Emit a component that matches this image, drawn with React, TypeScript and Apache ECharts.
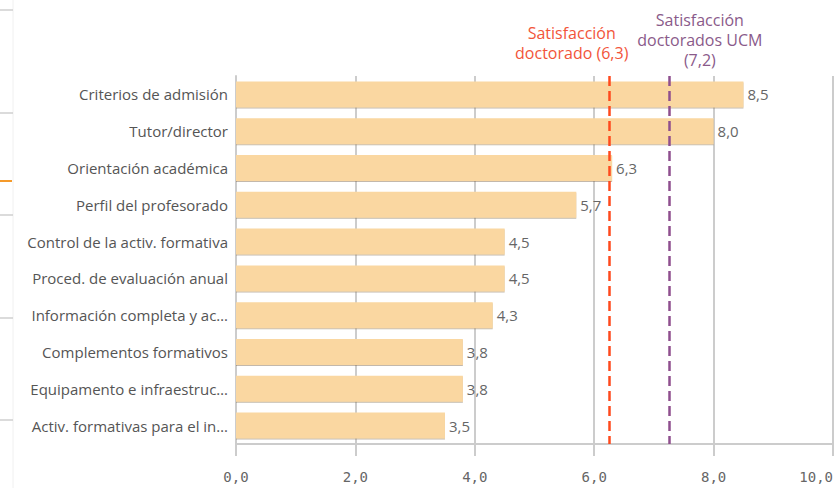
import React, { useEffect, useRef } from "react";
import * as echarts from "echarts";

const categories = [
  "Criterios de admisión",
  "Tutor/director",
  "Orientación académica",
  "Perfil del profesorado",
  "Control de la activ. formativa",
  "Proced. de evaluación anual",
  "Información completa y ac…",
  "Complementos formativos",
  "Equipamento e infraestruc…",
  "Activ. formativas para el in…",
];
const values = [8.5, 8.0, 6.3, 5.7, 4.5, 4.5, 4.3, 3.8, 3.8, 3.5];
const refDoctorado = 6.26;
const refUCM = 7.25;
const refDoctoradoLabel = "Satisfacción\ndoctorado (6,3)";
const refUCMLabel = "Satisfacción\ndoctorados UCM\n(7,2)";
const xTicks = [0, 2, 4, 6, 8, 10];

const fmt = (v: number) => v.toFixed(1).replace(".", ",");

export default function App() {
  const ref = useRef<HTMLDivElement>(null);
  useEffect(() => {
    if (!ref.current) return;
    const chart = echarts.init(ref.current, null, { renderer: "svg" });
    const mono = "DejaVu Sans Mono";
    const sans = "Open Sans";
    chart.setOption({
      animation: false,
      grid: { left: 236, right: 2, top: 76, bottom: 44, containLabel: false },
      xAxis: {
        type: "value",
        min: xTicks[0],
        max: xTicks[xTicks.length - 1],
        interval: 2,
        axisLine: { show: true, lineStyle: { color: "#cccccc", width: 2 } },
        axisTick: { show: true, length: 12, lineStyle: { color: "#cccccc", width: 2 } },
        splitLine: { show: true, lineStyle: { color: "#cccccc", width: 2 } },
        axisLabel: {
          margin: 26,
          color: "#666666",
          fontFamily: mono,
          fontSize: 14,
          formatter: (v: number) => fmt(v),
          alignMaxLabel: "right",
        },
      },
      yAxis: {
        type: "category",
        inverse: true,
        data: categories,
        offset: 3,
        axisLine: { show: true, lineStyle: { color: "#cccccc", width: 2 } },
        axisTick: { show: false },
        axisLabel: { color: "#555555", fontFamily: sans, fontSize: 15, margin: 5 },
      },
      series: [
        {
          type: "bar",
          data: values,
          barWidth: 26,
          itemStyle: {
            color: "#fad7a1",
            shadowColor: "rgba(120,100,70,0.45)",
            shadowOffsetY: 1,
            shadowBlur: 0,
          },
          label: {
            show: true,
            position: "right",
            distance: 4,
            color: "#666666",
            fontFamily: sans,
            fontSize: 15,
            formatter: (p: any) => fmt(p.value),
          },
          markLine: {
            silent: true,
            symbol: "none",
            label: { show: false },
            data: [
              { xAxis: refDoctorado, lineStyle: { color: "#ff4a1c", type: [10, 5], width: 2.5 } },
              { xAxis: refUCM, lineStyle: { color: "#8e4f8e", type: [10, 5], width: 2.5 } },
            ],
          },
        },
      ],
    });
    const x1 = chart.convertToPixel({ xAxisIndex: 0 }, refDoctorado) as number;
    const x2 = chart.convertToPixel({ xAxisIndex: 0 }, refUCM) as number;
    const sideLines = [10, 113, 215, 318, 420];
    chart.setOption({
      graphic: [
        {
          type: "text",
          x: x1 - 38,
          y: 23,
          style: {
            text: refDoctoradoLabel,
            fill: "#f2553a",
            font: `16px "${sans}"`,
            align: "center",
            lineHeight: 20,
          },
        },
        {
          type: "text",
          x: x2 + 31,
          y: 10,
          style: {
            text: refUCMLabel,
            fill: "#8a5a8a",
            font: `16px "${sans}"`,
            align: "center",
            lineHeight: 20,
          },
        },
        { type: "line", shape: { x1: 13, y1: 0, x2: 13, y2: 488 }, style: { stroke: "#f0f0f0", lineWidth: 1 } },
        ...sideLines.map((y) => ({
          type: "line",
          shape: { x1: 0, y1: y, x2: 13, y2: y },
          style: { stroke: "#cfcfcf", lineWidth: 1.5 },
        })),
        { type: "line", shape: { x1: 0, y1: 181, x2: 12, y2: 181 }, style: { stroke: "#f59a2a", lineWidth: 2 } },
      ],
    });
    return () => chart.dispose();
  }, []);
  return <div ref={ref} style={{ width: 836, height: 488, position: "absolute", left: 0, top: 0 }} />;
}
